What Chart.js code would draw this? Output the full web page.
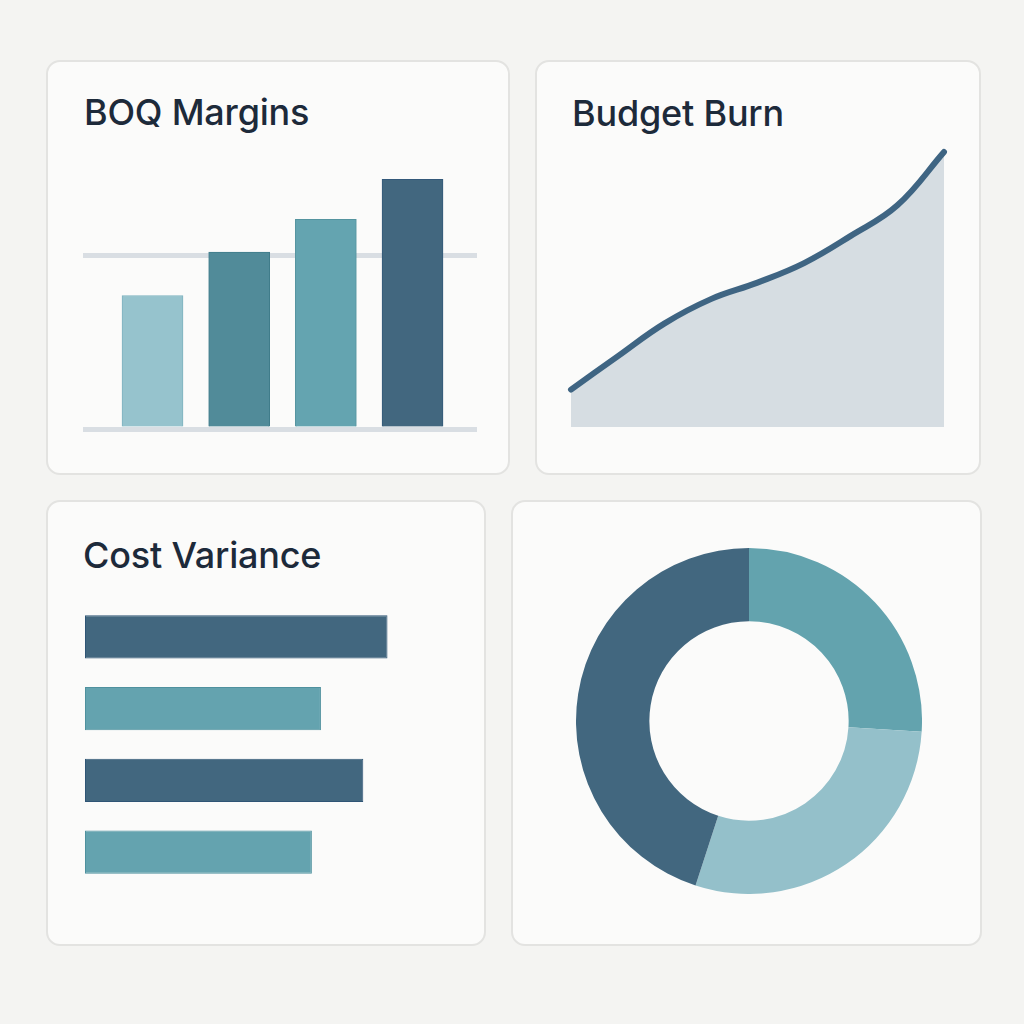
<!DOCTYPE html>
<html>
<head>
<meta charset="utf-8">
<script src="https://cdn.jsdelivr.net/npm/chart.js@4.4.1/dist/chart.umd.min.js"></script>
<style>
  html, body { margin:0; padding:0; }
  body { width:1024px; height:1024px; background:#f4f4f2; position:relative; overflow:hidden; font-family: Inter, "Noto Sans", sans-serif; }
  .card { position:absolute; box-sizing:border-box; background:#fbfbfa; border:2px solid #e3e3e1; border-radius:14px; }
  .title { position:absolute; font-family: Inter, sans-serif; font-weight:500; font-size:36px; line-height:36px; color:#1d2a3a; white-space:nowrap; letter-spacing:-0.2px; }
  canvas { position:absolute; }
</style>
</head>
<body>
<div class="card" style="left:46px;top:60px;width:464px;height:415px;"></div>
<div class="card" style="left:535px;top:60px;width:446px;height:415px;"></div>
<div class="card" style="left:46px;top:500px;width:440px;height:446px;"></div>
<div class="card" style="left:511px;top:500px;width:471px;height:446px;"></div>

<div class="title" id="t1" style="left:84px;top:94px;"></div>
<div class="title" id="t2" style="left:572px;top:95px;"></div>
<div class="title" id="t3" style="left:83px;top:537px;"></div>

<canvas id="c1" width="394" height="266" style="left:83px;top:169px;"></canvas>
<canvas id="c2" width="393" height="288" style="left:561px;top:142px;"></canvas>
<canvas id="c3" width="363" height="287" style="left:85px;top:601px;"></canvas>
<canvas id="c4" width="346" height="346" style="left:576px;top:548px;"></canvas>

<script>
// ---- Titles ----
const titles = ["BOQ Margins", "Budget Burn", "Cost Variance"];

// ---- BOQ Margins (vertical bars) ----
const boqCategories = ["Civil", "Structure", "MEP", "Finishes"];
const boqMargins = [15.4, 20.4, 24.2, 28.8];
const boqGridTicks = [0, 20];
const boqColors = ["#96c3cd", "#518b99", "#64a4b0", "#42677f"];
const boqBorders = ["#7fb3bf", "#417c8b", "#54949f", "#33597a"];

// ---- Budget Burn (area line) ----
const burnMonths = ["Jan", "Feb", "Mar", "Apr", "May", "Jun", "Jul", "Aug", "Sep"];
const burnValues = [13.6, 25.7, 37.6, 46.5, 52.5, 59.6, 69.5, 80.6, 100];

// ---- Cost Variance (horizontal bars) ----
const varianceCategories = ["Labour", "Materials", "Equipment", "Subcontract"];
const varianceValues = [100, 78, 92, 75];
const varianceColors = ["#42677f", "#64a3af", "#42677f", "#64a3af"];
const varianceBorders = ["#2f5575", "#4f919e", "#2f5575", "#4f919e"];

// ---- Donut ----
const shareLabels = ["Materials", "Labour", "Overheads"];
const shareValues = [26, 29, 45];
const shareColors = ["#63a3ae", "#94c0ca", "#42677f"];

document.getElementById('t1').textContent = titles[0];
document.getElementById('t2').textContent = titles[1];
document.getElementById('t3').textContent = titles[2];

const noPlugins = { legend: { display: false }, tooltip: { enabled: false } };

new Chart(document.getElementById('c1'), {
  type: 'bar',
  data: {
    labels: boqCategories,
    datasets: [{
      data: boqMargins.map((v, i) => ({ x: i, y: v })),
      backgroundColor: boqColors,
      borderColor: boqBorders,
      borderWidth: 1,
      borderSkipped: 'bottom',
      barThickness: 61
    }]
  },
  options: {
    responsive: false, animation: false,
    layout: { padding: { left: 0, right: 0, top: 0, bottom: 6 } },
    plugins: noPlugins,
    scales: {
      x: { type: 'linear', display: false, offset: false, grid: { offset: false }, min: -0.802, max: 3.744 },
      y: {
        min: 0, max: 30,
        afterFit: s => { s.width = 0; },
        afterBuildTicks: s => { s.ticks = boqGridTicks.map(v => ({ value: v })); },
        ticks: { display: false },
        border: { display: false },
        grid: { color: '#d9dee3', lineWidth: 5, drawTicks: false }
      }
    }
  }
});

new Chart(document.getElementById('c2'), {
  type: 'line',
  data: {
    labels: burnMonths,
    datasets: [{
      data: burnValues,
      borderColor: '#3f6583',
      borderWidth: 6,
      borderCapStyle: 'round',
      borderJoinStyle: 'round',
      backgroundColor: '#d6dde2',
      fill: 'origin',
      tension: 0.4,
      capBezierPoints: false,
      pointRadius: 0,
      clip: false
    }]
  },
  options: {
    responsive: false, animation: false,
    layout: { padding: { left: 10, right: 10, top: 10, bottom: 3 } },
    plugins: noPlugins,
    elements: { line: { capBezierPoints: false } },
    scales: {
      x: { display: false },
      y: { display: false, min: 0, max: 100 }
    }
  }
});

new Chart(document.getElementById('c3'), {
  type: 'bar',
  data: {
    labels: varianceCategories,
    datasets: [{
      data: varianceValues,
      backgroundColor: varianceColors,
      borderColor: varianceBorders,
      borderWidth: 1,
      borderSkipped: false,
      categoryPercentage: 1,
      barPercentage: 0.6
    }]
  },
  options: {
    indexAxis: 'y',
    responsive: false, animation: false,
    plugins: noPlugins,
    scales: {
      x: { display: false, min: 0, max: 120 },
      y: { display: false }
    }
  }
});

new Chart(document.getElementById('c4'), {
  type: 'doughnut',
  data: {
    labels: shareLabels,
    datasets: [{
      data: shareValues,
      backgroundColor: shareColors,
      borderWidth: 0
    }]
  },
  options: {
    responsive: false, animation: false,
    cutout: '57.6%',
    plugins: noPlugins
  }
});
</script>
</body>
</html>
